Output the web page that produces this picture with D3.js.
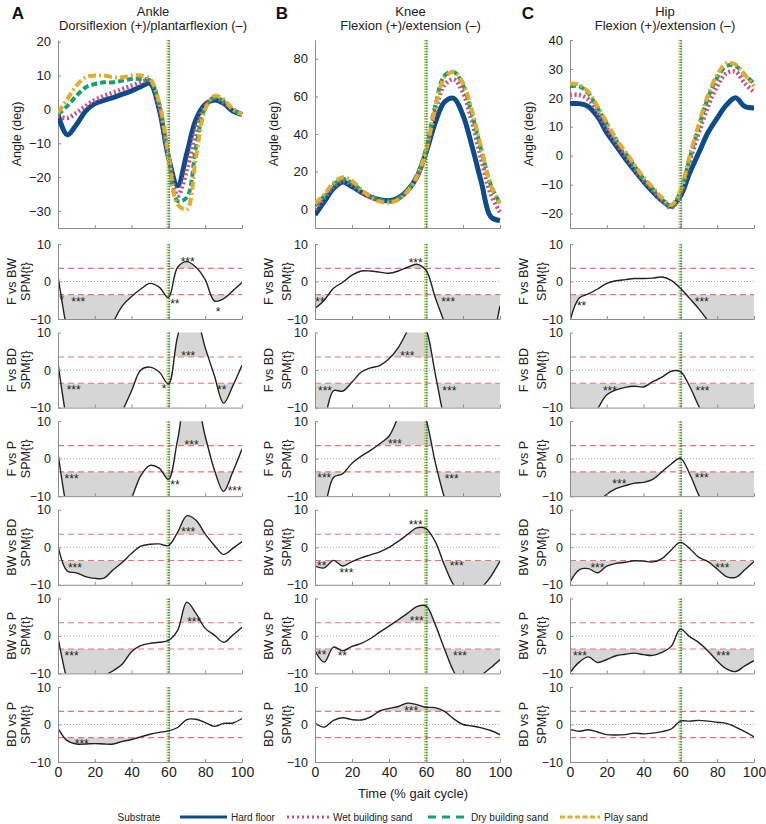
<!DOCTYPE html>
<html>
<head>
<meta charset="utf-8">
<script src="https://cdn.jsdelivr.net/npm/d3@7"></script>
<style>
  body { margin: 0; background: #fff; }
  svg { font-family: "Liberation Sans", Arial, sans-serif; }
</style>
</head>
<body>
<svg id="chart" width="766" height="824"></svg>
<script>
// ---- data (values every 5 % of the gait cycle) ----
const gaitPct = [0, 5, 10, 15, 20, 25, 30, 35, 40, 45, 50, 55, 60, 65, 70, 75, 80, 85, 90, 95, 100];

const substrates = ["Hard floor", "Wet building sand", "Dry building sand", "Play sand"];
const joints = ["Ankle", "Knee", "Hip"];
const jointSubtitles = ["Dorsiflexion (+)/plantarflexion (\u2013)", "Flexion (+)/extension (\u2013)", "Flexion (+)/extension (\u2013)"];
const panelLetters = ["A", "B", "C"];
const comparisons = ["F vs BW", "F vs BD", "F vs P", "BW vs BD", "BW vs P", "BD vs P"];

// joint angles (deg)
const ankleHardFloor = [-1.5, -7.5, -4.5, -0.5, 1.7, 2.7, 3.5, 4.5, 5.5, 6.7, 7.7, 0, -14, -22.5, -13, -3, 1.5, 2.8, 1.8, -0.5, -1.5];
const ankleWetSand   = [-2, -2.5, -1, 1, 2.8, 4, 5, 6, 7, 8, 8.5, 1, -14, -25.5, -18, -6, 1, 3.5, 2, 0, -1.5];
const ankleDrySand   = [-1.5, 1, 4, 6.5, 7.5, 8, 8, 8.5, 9, 9, 8.5, 1.5, -14, -27, -26, -11, 0.5, 3.5, 2.5, 0, -1.5];
const anklePlaySand  = [-1, 3, 7, 9.5, 10, 10, 9.5, 9.5, 10, 10, 9, 2, -13, -28, -29.5, -14, 0, 4, 3, 0, -1.5];

const kneeHardFloor = [-3, 4, 11, 14.5, 12, 9, 6.5, 5, 4.5, 6, 10, 17, 30, 46, 57, 59, 50, 33, 14, -4, -6];
const kneeWetSand   = [0, 6, 12, 15, 13, 9, 6.5, 4.5, 4, 5.5, 9.5, 17, 31, 52, 66, 69, 62, 46, 26, 8, -1.5];
const kneeDrySand   = [2, 7, 13, 16, 14, 10, 7, 5, 4, 5.5, 10, 18, 32, 55, 71, 73, 66, 50, 31, 13, 3];
const kneePlaySand  = [3, 8, 14, 17, 15, 10.5, 6.5, 4, 3.5, 5, 9.5, 17, 31, 54, 70, 73, 67, 52, 32, 13, 3];

const hipHardFloor = [18, 18, 17, 13.5, 8, 3.5, -1, -5, -9, -12.5, -15.5, -17.5, -14, -6, 1, 8, 13, 17.5, 20, 17, 16.5];
const hipWetSand   = [21, 21, 19.5, 15, 9.5, 4.5, 0, -4.5, -8.5, -12, -15.5, -18, -13, -2, 8, 17, 24, 28.5, 29, 25, 22];
const hipDrySand   = [24, 24, 21.5, 16.5, 11, 5.5, 1, -3.5, -8, -11.5, -15, -17.5, -12.5, -1, 10, 20, 27, 31, 31, 28, 25];
const hipPlaySand  = [25, 24.5, 22, 17, 11.5, 6, 1.5, -3, -7.5, -11, -14.5, -17, -12, 0, 11, 21, 28, 32, 31.5, 28, 24];

// SPM{t} curves
const spmAnkleFvsBW  = [1.5, -13, -22, -25, -24, -18, -11, -6.5, -4, -2, -0.5, -1.5, -4.3, 3.8, 5.3, 3.8, 0.5, -5.2, -4.6, -2.5, -0.3];
const spmAnkleFvsBD  = [2, -14, -24, -28, -27, -22, -15, -10.8, -5.5, 0, 0.8, -0.5, -3.7, 9, 16, 14, 6, -1.5, -8.8, -4.2, 1.3];
const spmAnkleFvsP   = [1.5, -14, -24, -30, -30, -27, -21, -15, -10.5, -4.5, -1.8, -2.5, -5.5, 5, 16, 15, 6, -3, -8.7, -3.5, 2.6];
const spmAnkleBWvsBD = [0.4, -6.3, -6.8, -7.8, -8.3, -8.2, -6, -4, -1.6, 0.3, 0.8, 0.9, 0.5, 4, 8.4, 7.2, 3.5, 0.5, -1.9, -0.3, 1.5];
const spmAnkleBWvsP  = [-0.5, -12, -20, -23, -20, -11, -9.3, -7.5, -4.2, -2.6, -2, -1.7, -1.2, 1.5, 9, 6, 2, 0.2, -1.7, 0.2, 2.3];
const spmAnkleBDvsP  = [-1, -4.3, -5.2, -5.2, -5.1, -5.2, -5.2, -4.5, -4, -3.3, -2.6, -2.1, -1.7, -0.8, 1.3, 1.4, 0.5, -0.5, 0.3, 0.4, 1.6];

const spmKneeFvsBW  = [-7.2, -5, -1.8, -0.2, 1.7, 2.8, 2.8, 2.5, 2.2, 2.8, 3.8, 4.6, 3, -4.3, -11, -18, -22, -22, -22, -17, -6.5];
const spmKneeFvsBD  = [-15, -12.5, -5.5, -5.6, -3.2, -0.5, 0.6, 1.2, 3, 6, 10.5, 15, 11, -1, -13, -20, -24, -24, -22, -20, -18];
const spmKneeFvsP   = [-15, -12.5, -5, -4, -1.2, 0.7, 2.2, 4, 6, 11, 15, 16, 10.5, -1, -10.5, -18, -22, -22, -20, -18, -16];
const spmKneeBWvsBD = [-5, -5.5, -3.5, -5, -3.8, -2.8, -2, -1.2, 0, 1.6, 3.4, 5.2, 5, 1.5, -4.8, -10.1, -13, -13, -10.8, -7.8, -3.7];
const spmKneeBWvsP  = [-4, -7, -3, -4, -2.8, -2, -0.7, 1, 2.6, 4.3, 6, 7.8, 8, 3, -3.5, -9.5, -13, -13, -10.5, -8.5, -6.3];
const spmKneeBDvsP  = [0.4, -0.7, 1.1, 1.8, 1.3, 1.2, 2, 3.6, 4.3, 4.8, 5.7, 5.3, 4.6, 4.5, 3.5, 1.5, 0, -0.4, -0.9, -1.6, -2.7];

const spmHipFvsBW  = [-10.5, -4.4, -3.3, -2, -0.5, 0.2, 0.5, 0.8, 0.8, 0.9, 1.2, 0.3, -1.8, -4.5, -7.3, -10.5, -14, -17, -18, -18, -17];
const spmHipFvsBD  = [-20, -18, -14, -10.3, -6.6, -5.3, -4.6, -4.3, -4.5, -3.1, -1.9, -0.3, -0.4, -4.3, -9.6, -14, -17, -19, -20, -20, -20];
const spmHipFvsP   = [-22, -20, -16, -12, -9.5, -8, -7.2, -6.5, -6.3, -5.5, -3.5, -1.4, 0.1, -4, -9.7, -14, -17, -19, -20, -20, -20];
const spmHipBWvsBD = [-9.3, -6, -5.7, -6.8, -5, -4.3, -4, -3.6, -3.7, -3.9, -3, -0.7, 1.3, -0.3, -2.7, -3.8, -5.8, -7.8, -8, -6, -3.8];
const spmHipBWvsP  = [-9.8, -7, -5.6, -7.1, -6.3, -5.3, -4.9, -4.6, -5, -5.2, -4.4, -2.8, 1.8, -0.2, -1.8, -4, -6.7, -8.8, -9.5, -8, -6.6];
const spmHipBDvsP  = [-1.3, -1.8, -1.4, -2, -2.7, -2.8, -2.7, -2.3, -2.5, -2.3, -1.9, -1.2, 0.9, 0.9, 1.1, 0.9, 0.6, 0.3, -0.7, -1.9, -3.3];

const spmThreshold = 3.5;

// toe-off (% gait cycle) shown as vertical dotted lines
const toeOffSubstrates = ["Play sand", "Dry building sand"];
const toeOffPct = [59.4, 60.4];

// significance labels: [joint, comparison, % gait cycle, SPM{t}, text]
const sigLabels = [
  ["Ankle", "F vs BW", 2, -4.3, "*"], ["Ankle", "F vs BW", 11, -4.7, "***"], ["Ankle", "F vs BW", 63.5, -5.3, "**"],
  ["Ankle", "F vs BW", 70.5, 5.8, "***"], ["Ankle", "F vs BW", 87, -7.5, "*"],
  ["Ankle", "F vs BD", 8.5, -4.7, "***"], ["Ankle", "F vs BD", 57.6, -4.5, "*"], ["Ankle", "F vs BD", 70.8, 4.5, "***"],
  ["Ankle", "F vs BD", 89, -4.7, "**"],
  ["Ankle", "F vs P", 7.4, -4.7, "***"], ["Ankle", "F vs P", 63.6, -6.3, "**"], ["Ankle", "F vs P", 72.6, 4.4, "***"],
  ["Ankle", "F vs P", 96, -8, "***"],
  ["Ankle", "BW vs BD", 9.2, -4.8, "***"], ["Ankle", "BW vs BD", 70.8, 4.7, "***"],
  ["Ankle", "BW vs P", 7.4, -4.8, "***"], ["Ankle", "BW vs P", 74, 4.5, "***"],
  ["Ankle", "BD vs P", 12.9, -4.4, "***"],
  ["Knee", "F vs BW", 2.7, -4.7, "**"], ["Knee", "F vs BW", 54.4, 5.5, "***"], ["Knee", "F vs BW", 72, -4.9, "***"],
  ["Knee", "F vs BD", 5.4, -4.9, "***"], ["Knee", "F vs BD", 49.9, 4.5, "***"], ["Knee", "F vs BD", 72.6, -4.9, "***"],
  ["Knee", "F vs P", 5, -4.6, "***"], ["Knee", "F vs P", 43.2, 4.7, "***"], ["Knee", "F vs P", 73.9, -4.8, "***"],
  ["Knee", "BW vs BD", 3.6, -4.2, "**"], ["Knee", "BW vs BD", 17, -6.1, "***"], ["Knee", "BW vs BD", 54.4, 6.7, "***"],
  ["Knee", "BW vs BD", 76.6, -4.3, "***"],
  ["Knee", "BW vs P", 3.6, -4.4, "**"], ["Knee", "BW vs P", 14.8, -4.6, "**"], ["Knee", "BW vs P", 55, 4.7, "***"],
  ["Knee", "BW vs P", 78.4, -4.6, "***"],
  ["Knee", "BD vs P", 52, 4.4, "***"],
  ["Hip", "F vs BW", 6.3, -5.9, "**"], ["Hip", "F vs BW", 71.6, -4.7, "***"],
  ["Hip", "F vs BD", 21.7, -4.9, "***"], ["Hip", "F vs BD", 72, -4.9, "***"],
  ["Hip", "F vs P", 26.8, -6.2, "***"], ["Hip", "F vs P", 71.6, -4.6, "***"],
  ["Hip", "BW vs BD", 14.9, -4.9, "***"], ["Hip", "BW vs BD", 82.8, -4.9, "***"],
  ["Hip", "BW vs P", 5.4, -4.6, "***"], ["Hip", "BW vs P", 83.3, -4.6, "***"]
];

const angleTicks = [
  [-30, -20, -10, 0, 10, 20],
  [0, 20, 40, 60, 80],
  [-20, -10, 0, 10, 20, 30, 40]
];
const angleDomains = [[-35, 20.5], [-10, 90], [-25, 40]];
const spmTicks = [-10, 0, 10];
const timeTicks = [0, 20, 40, 60, 80, 100];

// tables built from the arrays above
const angleData = [
  [ankleHardFloor, ankleWetSand, ankleDrySand, anklePlaySand],
  [kneeHardFloor, kneeWetSand, kneeDrySand, kneePlaySand],
  [hipHardFloor, hipWetSand, hipDrySand, hipPlaySand]
];
const spmData = [
  [spmAnkleFvsBW, spmAnkleFvsBD, spmAnkleFvsP, spmAnkleBWvsBD, spmAnkleBWvsP, spmAnkleBDvsP],
  [spmKneeFvsBW, spmKneeFvsBD, spmKneeFvsP, spmKneeBWvsBD, spmKneeBWvsP, spmKneeBDvsP],
  [spmHipFvsBW, spmHipFvsBD, spmHipFvsP, spmHipBWvsBD, spmHipBWvsP, spmHipBDvsP]
];

// ---- styles & layout ----
const substrateStyle = [
  { color: "#0d4c8a", width: 5, dash: null },
  { color: "#c84f7e", width: 4.5, dash: "2,2.5" },
  { color: "#16a070", width: 4, dash: "6,3" },
  { color: "#e4ab2f", width: 4, dash: "8,3,2,3" }
];
const toeOffColors = { "Play sand": "#e0b33a", "Dry building sand": "#1f9a55" };

const colX = [[58, 242], [315, 500], [570, 754]];
const letterX = [18, 282, 528];
const topY = [40, 228];
const spmTop0 = 244;
const spmStep = 88.6;
const spmH = 75;
const axisGrey = "#8c8c8c";
const textCol = "#222";

const svg = d3.select("#chart");
const defs = svg.append("defs");

function styleAxis(g, size) {
  g.select(".domain").attr("stroke", axisGrey);
  g.selectAll(".tick line").attr("stroke", axisGrey);
  g.selectAll(".tick text")
    .attr("font-size", size)
    .attr("fill", textCol)
    .attr("font-family", "Liberation Sans, Arial, sans-serif");
}

function addClip(id, x, y, w, h) {
  defs.append("clipPath").attr("id", id)
    .append("rect").attr("x", x).attr("y", y).attr("width", w).attr("height", h);
  return `url(#${id})`;
}

function drawToeOff(g, xScale, y0, y1) {
  toeOffSubstrates.forEach((s, i) => {
    g.append("line")
      .attr("x1", xScale(toeOffPct[i])).attr("x2", xScale(toeOffPct[i]))
      .attr("y1", y0).attr("y2", y1)
      .attr("stroke", toeOffColors[s])
      .attr("stroke-width", 1.8)
      .attr("stroke-dasharray", "1.5,1.2");
  });
}

joints.forEach((joint, ci) => {
  const [x0, x1] = colX[ci];
  const xScale = d3.scaleLinear().domain([0, 100]).range([x0, x1]);
  const cx = (x0 + x1) / 2 + 3;

  // titles
  svg.append("text").attr("x", letterX[ci]).attr("y", 19)
    .attr("font-size", 17).attr("font-weight", "bold").attr("text-anchor", "middle")
    .attr("fill", "#111").text(panelLetters[ci]);
  svg.append("text").attr("x", cx).attr("y", 16)
    .attr("font-size", 13).attr("text-anchor", "middle").attr("fill", textCol).text(joint);
  svg.append("text").attr("x", cx).attr("y", 30)
    .attr("font-size", 13).attr("text-anchor", "middle").attr("fill", textCol).text(jointSubtitles[ci]);

  // ---- joint angle panel ----
  const yAng = d3.scaleLinear().domain(angleDomains[ci]).range([topY[1], topY[0]]);
  const gTop = svg.append("g");

  gTop.append("g").attr("transform", `translate(0,${topY[1]})`)
    .call(d3.axisBottom(xScale).tickValues(timeTicks).tickSizeInner(-3).tickSizeOuter(0).tickFormat(""))
    .call(g => styleAxis(g, 12));
  gTop.append("g").attr("transform", `translate(${x0},0)`)
    .call(d3.axisLeft(yAng).tickValues(angleTicks[ci]).tickSizeInner(-3).tickSizeOuter(0).tickPadding(7))
    .call(g => styleAxis(g, 13));

  svg.append("text")
    .attr("transform", `translate(${x0 - 37},${(topY[0] + topY[1]) / 2}) rotate(-90)`)
    .attr("font-size", 12.5).attr("text-anchor", "middle").attr("fill", textCol)
    .text("Angle (deg)");

  const clipTop = addClip(`clip-top-${ci}`, x0, topY[0] - 6, x1 - x0 + 4, topY[1] - topY[0] + 6);
  const angleLine = d3.line()
    .x((d, i) => xScale(gaitPct[i]))
    .y(d => yAng(d))
    .curve(d3.curveCatmullRom.alpha(0.5));

  const gLines = gTop.append("g").attr("clip-path", clipTop);
  angleData[ci].forEach((vals, si) => {
    const st = substrateStyle[si];
    gLines.append("path")
      .datum(vals)
      .attr("d", angleLine)
      .attr("fill", "none")
      .attr("stroke", st.color)
      .attr("stroke-width", st.width)
      .attr("stroke-dasharray", st.dash)
      .attr("stroke-linejoin", "round");
  });
  drawToeOff(gTop, xScale, topY[0], topY[1]);

  // ---- SPM panels ----
  comparisons.forEach((comp, ri) => {
    const top = spmTop0 + ri * spmStep;
    const bottom = top + spmH;
    const yS = d3.scaleLinear().domain([-10, 10]).range([bottom, top]);
    const g = svg.append("g");
    const vals = spmData[ci][ri];

    const clipAll = addClip(`clip-spm-${ci}-${ri}`, x0, top, x1 - x0, spmH);
    const clipUp = addClip(`clip-up-${ci}-${ri}`, x0, top, x1 - x0, yS(spmThreshold) - top);
    const clipDn = addClip(`clip-dn-${ci}-${ri}`, x0, yS(-spmThreshold), x1 - x0, bottom - yS(-spmThreshold));

    const curve = d3.curveCatmullRom.alpha(0.5);
    const xOf = (d, i) => xScale(gaitPct[i]);

    // suprathreshold clusters
    g.append("g").attr("clip-path", clipAll).append("path")
      .datum(vals)
      .attr("clip-path", clipUp)
      .attr("d", d3.area().x(xOf).y0(yS(spmThreshold)).y1(d => yS(d)).curve(curve))
      .attr("fill", "#d6d6d6");
    g.append("g").attr("clip-path", clipAll).append("path")
      .datum(vals)
      .attr("clip-path", clipDn)
      .attr("d", d3.area().x(xOf).y0(yS(-spmThreshold)).y1(d => yS(d)).curve(curve))
      .attr("fill", "#d6d6d6");

    // zero and thresholds
    g.append("line").attr("x1", x0).attr("x2", x1).attr("y1", yS(0)).attr("y2", yS(0))
      .attr("stroke", "#9a9a9a").attr("stroke-width", 0.9).attr("stroke-dasharray", "1,2");
    [spmThreshold, -spmThreshold].forEach(t => {
      g.append("line").attr("x1", x0).attr("x2", x1).attr("y1", yS(t)).attr("y2", yS(t))
        .attr("stroke", "#e8746f").attr("stroke-width", 1.1).attr("stroke-dasharray", "6,4");
    });

    drawToeOff(g, xScale, top, bottom);

    g.append("g").attr("clip-path", clipAll).append("path")
      .datum(vals)
      .attr("d", d3.line().x(xOf).y(d => yS(d)).curve(curve))
      .attr("fill", "none")
      .attr("stroke", "#222")
      .attr("stroke-width", 1.4);

    // axes
    const xAx = d3.axisBottom(xScale).tickValues(timeTicks).tickSizeInner(-3).tickSizeOuter(0).tickPadding(5);
    if (ri < comparisons.length - 1) xAx.tickFormat("");
    g.append("g").attr("transform", `translate(0,${bottom})`).call(xAx).call(a => styleAxis(a, 14));
    g.append("g").attr("transform", `translate(${x0},0)`)
      .call(d3.axisLeft(yS).tickValues(spmTicks).tickSizeInner(-3).tickSizeOuter(0).tickPadding(7))
      .call(a => styleAxis(a, 12.5));

    // row labels
    const lx = ci === 0 ? [11, 25] : [x0 - 47, x0 - 29];
    const my = (top + bottom) / 2;
    [comp, "SPM{t}"].forEach((txt, k) => {
      g.append("text")
        .attr("transform", `translate(${lx[k] + 4.5},${my}) rotate(-90)`)
        .attr("font-size", 12.5).attr("text-anchor", "middle").attr("fill", textCol)
        .text(txt);
    });

    // significance labels
    sigLabels.filter(s => s[0] === joint && s[1] === comp).forEach(s => {
      g.append("text")
        .attr("x", xScale(s[2]))
        .attr("y", yS(s[3]) + 6.5)
        .attr("font-size", 12).attr("text-anchor", "middle").attr("fill", textCol)
        .text(s[4]);
    });
  });
});

// x-axis title
svg.append("text").attr("x", 413).attr("y", 798)
  .attr("font-size", 13).attr("text-anchor", "middle").attr("fill", textCol)
  .text("Time (% gait cycle)");

// legend
const legendY = 817;
svg.append("text").attr("x", 139).attr("y", legendY + 3.5)
  .attr("font-size", 10).attr("text-anchor", "middle").attr("fill", textCol).text("Substrate");
const legendLineX = [[180, 227], [287, 329], [428, 467], [560, 600]];
substrates.forEach((s, i) => {
  const st = substrateStyle[i];
  svg.append("line")
    .attr("x1", legendLineX[i][0]).attr("x2", legendLineX[i][1])
    .attr("y1", legendY).attr("y2", legendY)
    .attr("stroke", st.color).attr("stroke-width", 3.2)
    .attr("stroke-dasharray", i === 1 ? "2,3" : i === 2 ? "8,6" : i === 3 ? "5,2.5" : null);
  svg.append("text").attr("x", legendLineX[i][1] + 4).attr("y", legendY + 3.5)
    .attr("font-size", 10).attr("fill", textCol).text(s);
});
</script>
</body>
</html>
